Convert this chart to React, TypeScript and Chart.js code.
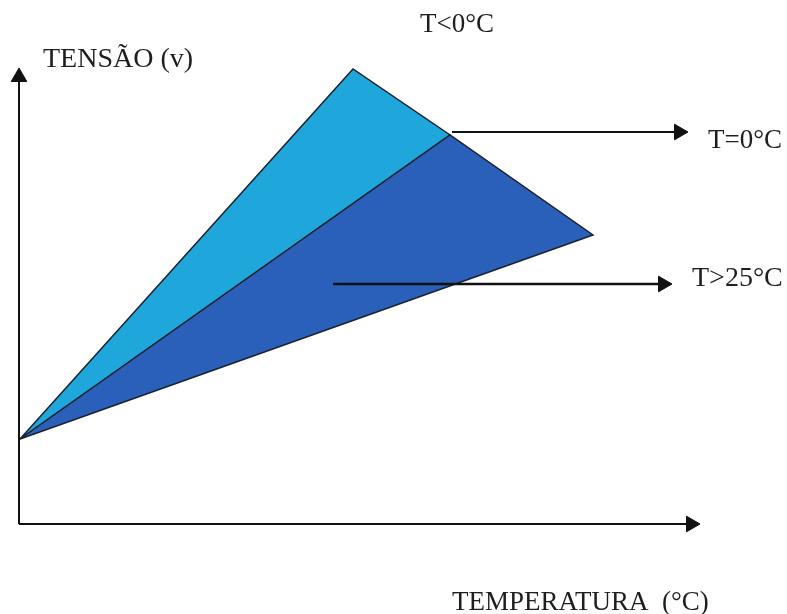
import React, { useEffect, useRef } from "react";
import { Chart, registerables } from "chart.js";

Chart.register(...registerables);

// Diagram coordinates (temperature units on x, voltage units on y)
const coldTriangle = [
  { x: 0.1, y: 8.5 },
  { x: 33.4, y: 45.5 },
  { x: 43.1, y: 38.9 },
  { x: 0.1, y: 8.5 },
];
const hotTriangle = [
  { x: 0.1, y: 8.5 },
  { x: 43.1, y: 38.9 },
  { x: 57.4, y: 28.9 },
  { x: 0.1, y: 8.5 },
];
const yAxisArrow = [
  { x: 0, y: 0 },
  { x: 0, y: 44.7 },
];
const xAxisArrow = [
  { x: 0, y: 0 },
  { x: 67.2, y: 0 },
];
const zeroArrow = [
  { x: 43.3, y: 39.2 },
  { x: 66.0, y: 39.2 },
];
const hotArrow = [
  { x: 31.4, y: 24.0 },
  { x: 64.4, y: 24.0 },
];
const labelTexts = ["TENSÃO (v)", "T<0°C", "T=0°C", "T>25°C", "TEMPERATURA  (°C)"];
const labelX = [2.4, 40.1, 68.9, 67.3, 43.3];
const labelY = [45.7, 49.2, 37.6, 23.8, -8.6];
const labelSize = [28, 27, 27, 28, 27];

const xMin = -1.9;
const xMax = 76.8;
const yMin = -9.0;
const yMax = 52.4;

const textPlugin = {
  id: "diagramLabels",
  afterDatasetsDraw(chart: any) {
    const ctx = chart.ctx;
    const xs = chart.scales.x;
    const ys = chart.scales.y;
    ctx.save();
    ctx.fillStyle = "#1e1e1e";
    ctx.textAlign = "left";
    ctx.textBaseline = "alphabetic";
    labelTexts.forEach((t, i) => {
      ctx.font = `${labelSize[i]}px "Liberation Serif", "DejaVu Serif", serif`;
      ctx.fillText(t, xs.getPixelForValue(labelX[i]), ys.getPixelForValue(labelY[i]));
    });
    ctx.restore();
  },
};

function arrowDataset(data: any[], rotation: number, width: number) {
  return {
    data,
    showLine: true,
    borderColor: "#111111",
    borderWidth: width,
    backgroundColor: "#111111",
    pointBackgroundColor: "#111111",
    pointBorderColor: "#111111",
    pointBorderWidth: 1,
    pointStyle: "triangle",
    pointRadius: [0, 9],
    pointRotation: [0, rotation],
    fill: false,
    order: 0,
  };
}

export default function App() {
  const ref = useRef<HTMLCanvasElement | null>(null);
  useEffect(() => {
    document.body.style.margin = "0";
    const canvas = ref.current;
    if (!canvas) return;
    const chart = new Chart(canvas, {
      type: "scatter",
      data: {
        datasets: [
          arrowDataset(yAxisArrow, 0, 2),
          arrowDataset(xAxisArrow, 90, 2),
          arrowDataset(zeroArrow, 90, 2),
          arrowDataset(hotArrow, 90, 2.5),
          {
            data: coldTriangle,
            showLine: true,
            fill: "shape",
            backgroundColor: "#1fa7dc",
            borderColor: "#1a2230",
            borderWidth: 1.5,
            pointRadius: 0,
            tension: 0,
            order: 2,
          },
          {
            data: hotTriangle,
            showLine: true,
            fill: "shape",
            backgroundColor: "#2a60ba",
            borderColor: "#1a2230",
            borderWidth: 1.5,
            pointRadius: 0,
            tension: 0,
            order: 1,
          },
        ] as any,
      },
      options: {
        animation: false,
        responsive: true,
        maintainAspectRatio: false,
        events: [],
        layout: { padding: 0, autoPadding: false },
        plugins: {
          legend: { display: false },
          tooltip: { enabled: false },
        },
        scales: {
          x: { type: "linear", min: xMin, max: xMax, display: false },
          y: { type: "linear", min: yMin, max: yMax, display: false },
        },
      } as any,
      plugins: [textPlugin],
    });
    return () => chart.destroy();
  }, []);
  return (
    <div style={{ position: "absolute", left: 0, top: 0, width: 787, height: 614, background: "#ffffff" }}>
      <canvas ref={ref} />
    </div>
  );
}
